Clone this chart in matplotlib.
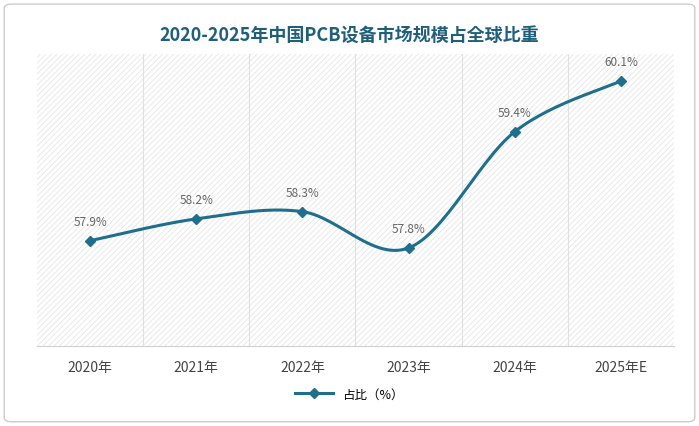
import matplotlib.pyplot as plt
import numpy as np
from matplotlib.patches import FancyBboxPatch
from matplotlib import font_manager

names = {f.name for f in font_manager.fontManager.ttflist}
cjk = [n for n in ["Noto Sans CJK SC", "Noto Sans CJK JP", "Noto Sans CJK TC"] if n in names]
plt.rcParams['font.family'] = (cjk[:1] or []) + ['DejaVu Sans']

years = ["2020年", "2021年", "2022年", "2023年", "2024年", "2025年E"]
share = [57.9, 58.2, 58.3, 57.8, 59.4, 60.1]
line_color = "#1f6e8c"

fig = plt.figure(figsize=(6.99, 4.27), dpi=100)
fig.patches.append(FancyBboxPatch((0.006, 0.01), 0.988, 0.978, boxstyle="round,pad=0,rounding_size=0.01",
                                  transform=fig.transFigure, fc="white", ec="#cccccc", lw=1, zorder=-10))
ax = fig.add_axes([37/699, 1-347/427, 637/699, 292/427])
ax.patch.set_alpha(0)
ax.set_xlim(-0.5, 5.5)
ax.set_ylim(56.45, 60.47)

# hatched background
plt.rcParams['hatch.linewidth'] = 0.6
ax.add_patch(plt.Rectangle((-0.5, 56.45), 6, 4.02, fill=False, hatch="//////", ec="#e6e6e6", lw=0))
for b in np.arange(0.5, 5.5, 1):
    ax.axvline(b, color="#e0e0e0", lw=0.8)

# smooth curve (Catmull-Rom through the data points)
x = np.arange(len(share), dtype=float)
y = np.array(share)
px = np.concatenate([[x[0]], x, [x[-1]]])
py = np.concatenate([[y[0]], y, [y[-1]]])
xs, ys = [], []
t = np.linspace(0, 1, 30)
for i in range(1, len(px) - 2):
    for arr, out in ((px, xs), (py, ys)):
        p0, p1, p2, p3 = arr[i-1], arr[i], arr[i+1], arr[i+2]
        out.extend(0.5 * ((2*p1) + (-p0+p2)*t + (2*p0-5*p1+4*p2-p3)*t**2 + (-p0+3*p1-3*p2+p3)*t**3))
ax.plot(xs, ys, color=line_color, lw=2.2)
ax.plot(x, y, ls="none", marker="D", ms=5, color=line_color)
ax.plot([], [], color=line_color, lw=2.2, marker="D", ms=5, label="占比（%）")
for xi, yi in zip(x, y):
    ax.text(xi, yi + 0.18, f"{yi}%", ha="center", va="bottom", fontsize=8.5, color="#666666")

ax.set_xticks(x)
ax.set_xticklabels(years, fontsize=10, color="#444444")
ax.tick_params(axis="x", length=0, pad=10)
ax.set_yticks([])
for s in ["left", "right", "top"]:
    ax.spines[s].set_visible(False)
ax.spines["bottom"].set_color("#d0d0d0")

fig.legend(loc="center", bbox_to_anchor=(0.5, 1-395/427), frameon=False, fontsize=9, handlelength=3)
fig.text(0.5, 1-35/427, "2020-2025年中国PCB设备市场规模占全球比重", ha="center", va="center",
         fontsize=13, fontweight="bold", color="#1f5f7a")
fig.savefig("out.png", dpi=100)
